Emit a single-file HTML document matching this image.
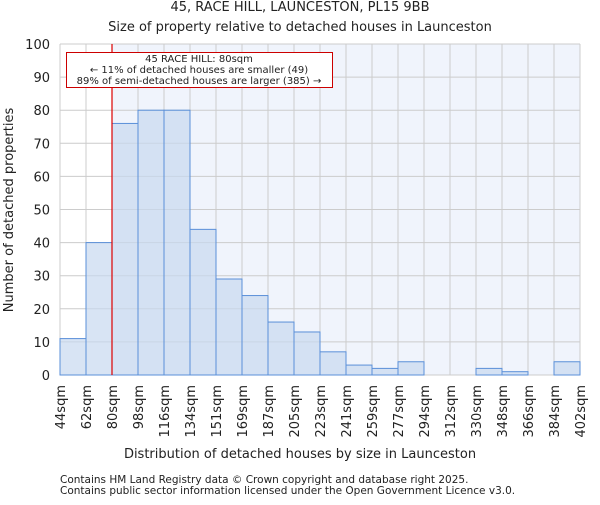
<!DOCTYPE html>
<html><head><meta charset="utf-8"><style>
body{margin:0;background:#fff}
text{font-family:"DejaVu Sans","Liberation Sans",sans-serif;fill:#222}
</style></head><body>
<svg width="600" height="500" viewBox="0 0 600 500" xmlns="http://www.w3.org/2000/svg">
<text x="300" y="11" text-anchor="middle" font-size="13">45, RACE HILL, LAUNCESTON, PL15 9BB</text>
<text x="300" y="31" text-anchor="middle" font-size="13">Size of property relative to detached houses in Launceston</text>
<rect x="112" y="44" width="468" height="331" fill="#f0f4fc"/>
<g id="grid"></g>
<g id="bars"></g>
<line x1="112" y1="44" x2="112" y2="375" stroke="#d00" stroke-width="1.2"/>
<g id="axes"></g>
<rect x="66.5" y="52.5" width="266" height="35" fill="#fff" stroke="#c00" stroke-width="1"/>
<text x="199" y="62" text-anchor="middle" font-size="10">45 RACE HILL: 80sqm</text>
<text x="199" y="73" text-anchor="middle" font-size="10">← 11% of detached houses are smaller (49)</text>
<text x="199" y="84" text-anchor="middle" font-size="10">89% of semi-detached houses are larger (385) →</text>
<text transform="translate(13,210) rotate(-90)" text-anchor="middle" font-size="13">Number of detached properties</text>
<text x="300" y="458" text-anchor="middle" font-size="13">Distribution of detached houses by size in Launceston</text>
<text x="60" y="483" font-size="10.5" fill="#444">Contains HM Land Registry data © Crown copyright and database right 2025.</text>
<text x="60" y="494" font-size="10.5" fill="#444">Contains public sector information licensed under the Open Government Licence v3.0.</text>
</svg>
<script>
const binLabels=["44sqm","62sqm","80sqm","98sqm","116sqm","134sqm","151sqm","169sqm","187sqm","205sqm","223sqm","241sqm","259sqm","277sqm","294sqm","312sqm","330sqm","348sqm","366sqm","384sqm","402sqm"];
const counts=[11,40,76,80,80,44,29,24,16,13,7,3,2,4,0,0,2,1,0,4];
const yTicks=[0,10,20,30,40,50,60,70,80,90,100];
const NS="http://www.w3.org/2000/svg";
const x0=60,x1=580,y0=375,y1=44,yMax=100;
const bw=(x1-x0)/counts.length;
const xs=i=>x0+i*bw;
const ys=v=>y0-(v/yMax)*(y0-y1);
function mk(t,a,p){const e=document.createElementNS(NS,t);for(const k in a)e.setAttribute(k,a[k]);p.appendChild(e);return e;}
const grid=document.getElementById('grid'),bars=document.getElementById('bars'),axes=document.getElementById('axes');
yTicks.forEach(v=>{
 const l=mk('line',{x1:x0,x2:x1,y1:ys(v),y2:ys(v),stroke:'#ccc','stroke-width':1},grid);
 
 
 const t=mk('text',{x:x0-10,y:ys(v)+5,'text-anchor':'end','font-size':13},axes);
 t.textContent=v;
 
 
});
binLabels.forEach((lab,i)=>{
 const l=mk('line',{x1:xs(i),x2:xs(i),y1:y1,y2:y0,stroke:'#ccc','stroke-width':1},grid);
 
 
 const t=mk('text',{transform:`translate(${xs(i)+5},385) rotate(-90)`,'text-anchor':'end','font-size':13},axes);
 t.textContent=lab;
 
 
});
counts.forEach((c,i)=>{
 const r=mk('rect',{x:xs(i),y:ys(c),width:bw,height:y0-ys(c),fill:'rgba(200,216,240,0.7)',stroke:'#5a8fd8','stroke-width':1},bars);
 
 
});
</script>
</body></html>
